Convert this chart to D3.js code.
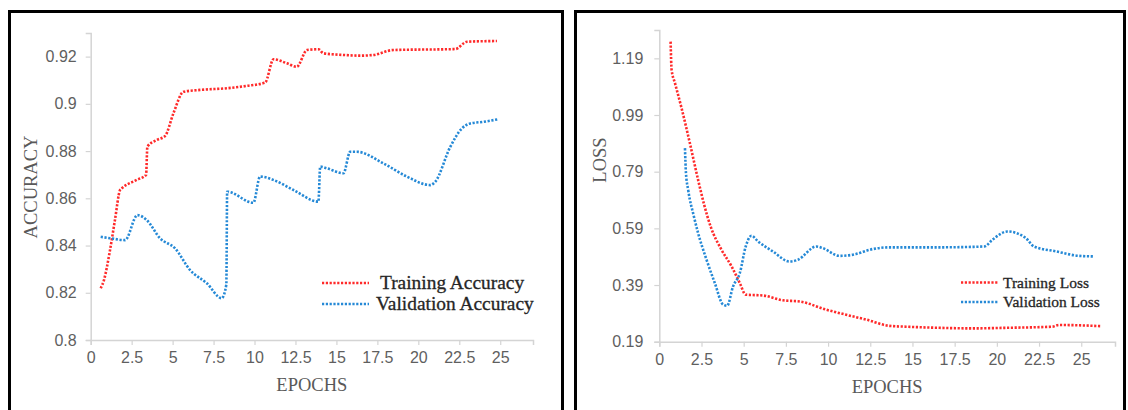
<!DOCTYPE html>
<html>
<head>
<meta charset="utf-8">
<script src="https://cdn.jsdelivr.net/npm/d3@7"></script>
<style>
  html, body { margin: 0; padding: 0; background: #fff; }
  svg { display: block; }
  .tick-label { font-family: "Liberation Sans", Arial, sans-serif; font-size: 16px; fill: #5f5f5f; }
  .axis-title { font-family: "Liberation Serif", "Times New Roman", serif; font-size: 18.5px; fill: #595959; }
  .legend-text { font-family: "Liberation Serif", "Times New Roman", serif; fill: #262626; stroke: #262626; stroke-width: 0.3px; }
</style>
</head>
<body>
<svg id="chart" width="1128" height="410"></svg>
<script>
// ---- Accuracy panel data ----
const trainAccEpochs = [0.61, 0.81, 1.18, 1.48, 1.79, 1.89, 2.81, 3.38, 3.46, 4.03, 4.54, 5.05, 5.66, 6.68, 8.31, 9.53, 10.65, 11.16, 11.97, 12.58, 13.2, 13.9, 14.21, 15.43, 16.45, 17.26, 18.48, 22.25, 22.97, 24.8];
const trainAccValues = [0.8219, 0.8254, 0.8381, 0.8508, 0.8635, 0.8642, 0.8678, 0.8699, 0.8819, 0.8847, 0.8864, 0.896, 0.9051, 0.9059, 0.9066, 0.9076, 0.909, 0.9189, 0.9172, 0.9157, 0.9228, 0.9231, 0.9214, 0.9207, 0.9204, 0.9207, 0.9228, 0.9232, 0.9263, 0.9266];
const valAccEpochs = [0.61, 1.18, 2.1, 2.85, 3.42, 4.23, 5.15, 6.07, 7.09, 8.0, 8.28, 8.33, 9.93, 10.34, 11.15, 12.38, 13.9, 14.01, 14.42, 15.43, 15.84, 16.25, 17.87, 19.3, 20.73, 21.03, 21.95, 22.66, 23.17, 23.98, 24.9];
const valAccValues = [0.8437, 0.8431, 0.8423, 0.8529, 0.8508, 0.8431, 0.8388, 0.8296, 0.824, 0.8177, 0.8235, 0.8628, 0.8581, 0.8692, 0.8678, 0.8635, 0.8586, 0.8734, 0.8727, 0.8706, 0.8797, 0.8797, 0.8748, 0.8692, 0.8656, 0.867, 0.8818, 0.8896, 0.8917, 0.8924, 0.8935];
const accYTicks = [0.8, 0.82, 0.84, 0.86, 0.88, 0.9, 0.92];

// ---- Loss panel data ----
const trainLossEpochs = [0.67, 0.73, 0.93, 1.32, 1.81, 2.3, 2.65, 3.05, 3.69, 4.28, 4.77, 5.12, 6.15, 7.33, 8.32, 9.89, 11.08, 12.26, 13.63, 14.62, 16.59, 18.56, 20.53, 23.29, 23.68, 26.15];
const trainLossValues = [1.249, 1.149, 1.1025, 1.014, 0.891, 0.761, 0.675, 0.595, 0.514, 0.456, 0.397, 0.356, 0.353, 0.336, 0.332, 0.303, 0.285, 0.268, 0.246, 0.243, 0.239, 0.237, 0.239, 0.243, 0.249, 0.245];
const valLossEpochs = [1.52, 1.58, 1.71, 2.05, 2.3, 2.8, 3.29, 3.78, 4.02, 4.37, 4.77, 5.12, 5.46, 5.85, 6.74, 7.72, 8.21, 9.3, 9.69, 10.68, 11.47, 12.65, 13.63, 16.59, 19.25, 19.74, 20.63, 21.71, 22.2, 23.49, 24.86, 25.76];
const valLossValues = [0.873, 0.785, 0.726, 0.632, 0.573, 0.479, 0.397, 0.321, 0.317, 0.385, 0.432, 0.526, 0.564, 0.544, 0.508, 0.473, 0.479, 0.526, 0.520, 0.493, 0.497, 0.517, 0.523, 0.523, 0.526, 0.550, 0.579, 0.556, 0.526, 0.509, 0.493, 0.491];
const lossYTicks = [0.19, 0.39, 0.59, 0.79, 0.99, 1.19];

const epochTicks = [0, 2.5, 5, 7.5, 10, 12.5, 15, 17.5, 20, 22.5, 25];

const RED = "#ff2a2a";
const BLUE = "#2589d6";
const AXIS = "#d4d4d4";

const svg = d3.select("#chart");

// panel frames
svg.append("rect").attr("x", 9.5).attr("y", 11.5).attr("width", 553).attr("height", 420)
  .attr("fill", "none").attr("stroke", "#000").attr("stroke-width", 3);
svg.append("rect").attr("x", 575.5).attr("y", 11.5).attr("width", 549).attr("height", 420)
  .attr("fill", "none").attr("stroke", "#000").attr("stroke-width", 3);

function zip(xs, ys) { return xs.map((x, i) => ({ x, y: ys[i] })); }

function drawPanel(cfg) {
  const x = d3.scaleLinear().domain([0, 27]).range([cfg.left, cfg.right]);
  const y = d3.scaleLinear().domain(cfg.yDomain).range([cfg.bottom, cfg.top]);
  const g = svg.append("g");

  // x axis
  const xAxis = d3.axisBottom(x).tickValues(epochTicks).tickSize(5).tickPadding(7)
    .tickFormat(d3.format("~g"));
  const xg = g.append("g").attr("transform", `translate(0,${cfg.bottom})`).call(xAxis);
  xg.attr("font-size", null).attr("font-family", null);
  xg.select(".domain").attr("stroke", AXIS).attr("stroke-width", 1.5);
  xg.selectAll(".tick line").attr("stroke", AXIS).attr("stroke-width", 1.2);
  xg.selectAll(".tick text").attr("class", "tick-label").attr("fill", null).attr("dy", "0.71em");

  // y axis
  const yAxis = d3.axisLeft(y).tickValues(cfg.yTicks).tickSize(5).tickPadding(cfg.yPad)
    .tickFormat(cfg.yFormat);
  const yg = g.append("g").attr("transform", `translate(${cfg.left},0)`).call(yAxis);
  yg.attr("font-size", null).attr("font-family", null);
  yg.select(".domain").attr("stroke", AXIS).attr("stroke-width", 1.5);
  yg.selectAll(".tick line").attr("stroke", AXIS).attr("stroke-width", 1.2);
  yg.selectAll(".tick text").attr("class", "tick-label").attr("fill", null);

  // axis titles
  g.append("text").attr("class", "axis-title").attr("text-anchor", "middle")
    .attr("x", (cfg.left + cfg.right) / 2).attr("y", cfg.xTitleY).text("EPOCHS");
  g.append("text").attr("class", "axis-title").attr("text-anchor", "middle")
    .attr("transform", `translate(${cfg.yTitleX},${cfg.yTitleY}) rotate(-90)`).text(cfg.yTitle);

  const line = d3.line().x(d => x(d.x)).y(d => y(d.y)).curve(d3.curveMonotoneX);

  cfg.series.forEach(s => {
    g.append("path").datum(zip(s.xs, s.ys))
      .attr("fill", "none").attr("stroke", s.color).attr("stroke-width", 2.6)
      .attr("stroke-dasharray", "2.2,1.6").attr("d", line);
  });

  // legend
  cfg.series.forEach((s, i) => {
    const ly = cfg.legend.y + i * cfg.legend.gap;
    g.append("line").attr("x1", cfg.legend.x1).attr("x2", cfg.legend.x2)
      .attr("y1", ly).attr("y2", ly).attr("stroke", s.color).attr("stroke-width", 2.6)
      .attr("stroke-dasharray", "2.2,1.6");
    g.append("text").attr("class", "legend-text").attr("font-size", cfg.legend.size)
      .attr("x", s.textX).attr("y", ly + cfg.legend.baseline).text(s.name);
  });
}

drawPanel({
  left: 90.7, right: 533, top: 33, bottom: 340,
  yDomain: [0.8, 0.93], yTicks: accYTicks, yFormat: d3.format("~g"), yPad: 9,
  xTitleY: 391, yTitle: "ACCURACY", yTitleX: 37, yTitleY: 187,
  series: [
    { name: "Training Accuracy", xs: trainAccEpochs, ys: trainAccValues, color: RED, textX: 380 },
    { name: "Validation Accuracy", xs: valAccEpochs, ys: valAccValues, color: BLUE, textX: 376 }
  ],
  legend: { x1: 322, x2: 369, y: 283, gap: 21, size: 19.4, baseline: 6 }
});

drawPanel({
  left: 659.3, right: 1115, top: 30, bottom: 341.7,
  yDomain: [0.19, 1.29], yTicks: lossYTicks, yFormat: d3.format(".2f"), yPad: 11,
  xTitleY: 393, yTitle: "LOSS", yTitleX: 606, yTitleY: 160,
  series: [
    { name: "Training Loss", xs: trainLossEpochs, ys: trainLossValues, color: RED, textX: 1003 },
    { name: "Validation Loss", xs: valLossEpochs, ys: valLossValues, color: BLUE, textX: 1003 }
  ],
  legend: { x1: 961, x2: 998, y: 282.5, gap: 19.5, size: 15.5, baseline: 5 }
});
</script>
</body>
</html>
